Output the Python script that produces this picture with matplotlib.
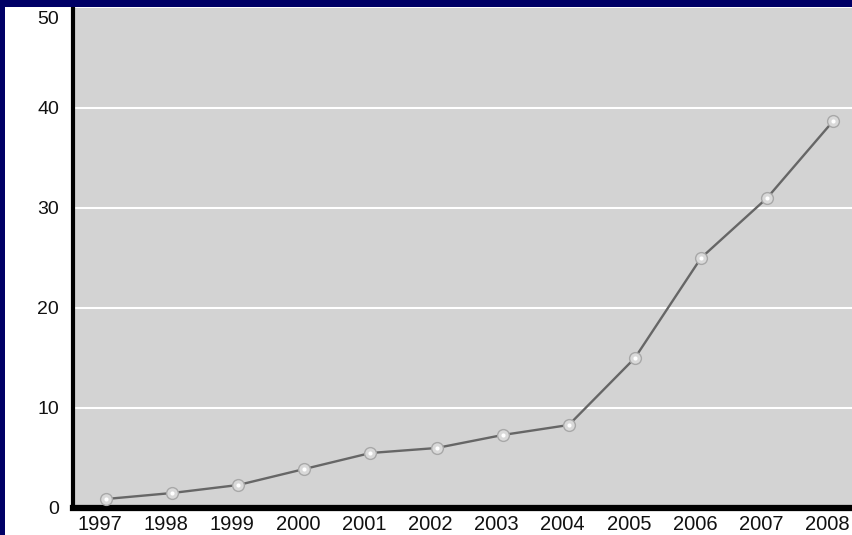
import matplotlib.pyplot as plt
import matplotlib.transforms as mtransforms
from matplotlib.patches import Rectangle

# data
years = [1997, 1998, 1999, 2000, 2001, 2002, 2003, 2004, 2005, 2006, 2007, 2008]
values = [0.9, 1.5, 2.3, 3.9, 5.5, 6.0, 7.3, 8.3, 15.0, 25.0, 31.0, 38.7]
y_ticks = [0, 10, 20, 30, 40, 50]

plt.rcParams['font.family'] = ['Liberation Sans', 'DejaVu Sans']

fig = plt.figure(figsize=(8.53, 5.35), dpi=100)
fig.patch.set_facecolor('white')

# slide frame bits (navy strip on the left and at the top)
fig.patches.append(Rectangle((0, 0), 5 / 853, 1, transform=fig.transFigure,
                             facecolor='#000066', edgecolor='none', zorder=0))
fig.patches.append(Rectangle((0, 1 - 7 / 535), 1, 7 / 535, transform=fig.transFigure,
                             facecolor='#000066', edgecolor='none', zorder=0))

ax = fig.add_axes([73 / 853, 27 / 535, 1 - 73 / 853, (508 - 8) / 535])
ax.set_facecolor('#d3d3d3')

ax.plot(years, values, color='#666666', lw=1.7, zorder=3)
ax.plot(years, values, linestyle='none', marker='o', ms=8.5,
        markerfacecolor='#d9d9d9', markeredgecolor='#a8a8a8', markeredgewidth=1, zorder=4)
ax.plot(years, values, linestyle='none', marker='o', ms=3,
        markerfacecolor='white', markeredgecolor='none', zorder=5)

ax.set_xlim(1996.5, 2008.3)
ax.set_ylim(0, 50)
ax.set_yticks(y_ticks)
ax.set_xticks(years)
ax.set_xticklabels([str(y) for y in years])

for y in y_ticks[1:-1]:
    ax.axhline(y, color='white', lw=1.5, zorder=1)

for s in ['top', 'right']:
    ax.spines[s].set_visible(False)
ax.spines['left'].set_linewidth(3)
ax.spines['bottom'].set_linewidth(4.5)
ax.spines['left'].set_color('black')
ax.spines['bottom'].set_color('black')

ax.tick_params(axis='x', length=0, labelsize=14.5, colors='#111111', pad=5)
ax.tick_params(axis='y', length=0, labelsize=14, colors='#111111', pad=10)

# year labels sit a little left of the points, top label pushed down under the banner
shift_x = mtransforms.ScaledTranslation(-6 / 100, 0, fig.dpi_scale_trans)
for lbl in ax.get_xticklabels():
    lbl.set_transform(lbl.get_transform() + shift_x)
shift_top = mtransforms.ScaledTranslation(0, -10 / 100, fig.dpi_scale_trans)
top_lbl = ax.get_yticklabels()[-1]
top_lbl.set_transform(top_lbl.get_transform() + shift_top)

fig.savefig('out.png', dpi=100)
